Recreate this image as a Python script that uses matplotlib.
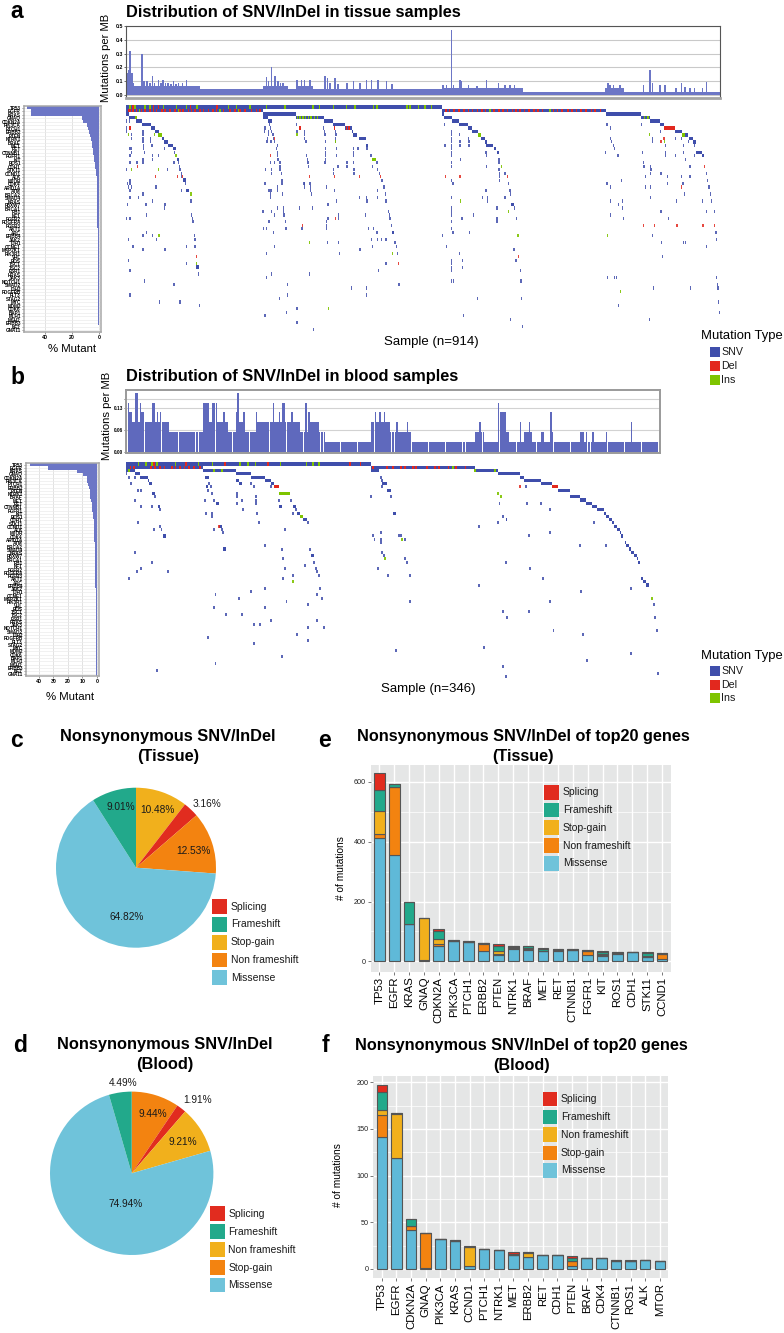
import numpy as np
import matplotlib
matplotlib.use('Agg')
import matplotlib.pyplot as plt
from matplotlib.patches import Rectangle

plt.rcParams['font.family'] = ['Liberation Sans', 'DejaVu Sans']

W, H = 784, 1333

# colours
SNV = '#3f4eab'
DEL = '#e2281e'
INS = '#7ec400'
HIST = '#6c76c6'
C_SPL = '#e12c1f'
C_FRA = '#22a98b'
C_YEL = '#f1b01c'
C_ORA = '#f38310'
C_MIS = '#6fc3da'

# ---- panel a, mutations per MB (start sample, end sample, value)
t_hist_plateau = [(0, 114, .067), (114, 211, .045), (211, 249, .067), (249, 262, .045),
                  (262, 288, .067), (288, 487, .04), (487, 611, .048), (611, 737, .024),
                  (737, 766, .048), (766, 914, .024)]
t_spike_x = [2, 5, 6, 9, 11, 25, 28, 32, 41, 50, 57, 65, 73, 81, 93,
             37, 44, 54, 61, 69, 77, 87, 216, 219, 224, 229, 234, 238, 242, 263, 270, 275, 283,
             306, 310, 314, 322, 326, 340, 350, 360, 370, 378, 388, 401, 409,
             488, 493, 501, 504, 514, 516, 527, 540, 555, 573, 583, 591, 598,
             742, 745, 750, 760, 796, 806, 810, 822, 829, 846, 855, 860, 868, 875, 887, 893]
t_spike_y = [.16, .18, .32, .16, .09, .30, .10, .10, .135, .11, .11, .09, .10, .09, .11,
             .085, .09, .085, .085, .08, .08, .085, .13, .10, .20, .14, .10, .09, .09, .11, .11, .11, .11,
             .14, .12, .09, .12, .08, .09, .10, .09, .11, .11, .11, .10, .08,
             .07, .07, .47, .07, .11, .10, .07, .065, .11, .09, .07, .07, .07,
             .09, .07, .075, .07, .07, .18, .09, .07, .07, .05, .09, .06, .05, .05, .05, .095]

# ---- panel a, % mutant per gene
genes = ['TP53', 'EGFR', 'KRAS', 'GNAQ', 'CDKN2A', 'PIK3CA', 'PTCH1', 'ERBB2', 'PTEN', 'NTRK1', 'BRAF',
         'MET', 'RET', 'CTNNB1', 'FGFR1', 'KIT', 'ROS1', 'CDH1', 'STK11', 'CCND1', 'ALK', 'MTOR', 'CDK4',
         'ARID1A', 'ATM', 'BRCA2', 'SMAD4', 'NRAS', 'FBXW7', 'BRCA1', 'RB1', 'NF1', 'FGFR2', 'PDGFRA',
         'FGFR3', 'AKT1', 'APC', 'ERBB4', 'JAK2', 'IDH1', 'CCNE1', 'MAP2K1', 'PIK3R1', 'VHL', 'ROS',
         'TSC1', 'TSC2', 'ESR1', 'HRAS', 'JAK3', 'NOTCH1', 'SMAD2', 'IDH2', 'PDGFRB', 'FLT3',
         'STAG2', 'MYC', 'MDM2', 'CDK6', 'BAP1', 'MLH1', 'MSH2', 'ERBB3', 'NF2', 'GNA11']
t_pct = [53.5, 50.5, 50.5, 12.5, 12, 9, 8.5, 7.5, 6.5, 6, 5.5, 5, 4.5, 4.2, 3.8, 3.4, 3, 2.7, 2.3, 1.9, 1.8, 1.7,
         1.6, 1.5, 1.5, 1.4, 1.4, 1.3, 1.3, 1.2, 1.2, 1.1, 1.1, 1.1, 1.1, 1, 1, 1, .9, .9, .9, .9, .8, .8,
         .8, .8, .7, .7, .7, .7, .6, .6, .6, .6, .5, .5, .5, .5, .5, .4, .4, .4, .4, .3, .3]

# ---- panel a, oncoprint: (row, start, end, kind)
t_runs = [(0, 0, 487, 's'), (1, 0, 211, 's'), (1, 487, 738, 's'),
          (2, 0, 4, 's'), (2, 211, 262, 's'), (2, 487, 490, 's'), (2, 738, 793, 's'),
          (3, 4, 15, 's'), (3, 211, 219, 's'), (3, 262, 304, 's'), (3, 490, 501, 's'), (3, 793, 806, 's'),
          (4, 16, 24, 's'), (4, 219, 224, 's'), (4, 304, 319, 's'), (4, 501, 513, 's'), (4, 806, 821, 's'),
          (5, 24, 38, 's'), (5, 319, 337, 's'), (5, 513, 526, 's'), (5, 821, 828, 's'),
          (6, 38, 44, 's'), (6, 337, 347, 's'), (6, 527, 533, 's'), (6, 828, 845, 'd'),
          (7, 44, 51, 's'), (7, 347, 350, 's'), (7, 533, 541, 's'), (7, 845, 855, 's'),
          (8, 50, 55, 'i'), (8, 350, 356, 's'), (8, 542, 547, 'i'), (8, 855, 860, 'i'), (8, 860, 865, 's'),
          (9, 55, 59, 's'), (9, 358, 369, 's'), (9, 547, 552, 's'), (9, 867, 873, 's'),
          (10, 59, 64, 's'), (10, 552, 556, 's'), (10, 873, 877, 's'),
          (11, 64, 73, 's'), (11, 369, 372, 's'), (11, 554, 565, 's'),
          (12, 73, 77, 's'), (12, 566, 570, 's'), (13, 571, 574, 's'), (13, 877, 886, 's'),
          (14, 886, 889, 's'), (15, 79, 82, 's'), (15, 378, 385, 'i'),
          (21, 87, 92, 's'), (24, 93, 97, 's'), (28, 593, 597, 's'), (36, 409, 413, 's'), (46, 108, 112, 's')]
# extra cells laid over the runs
t_row0_ins = [6, 14, 29, 37, 58, 78, 93, 109, 158, 170, 191, 216, 245, 288, 298, 319, 339, 352, 381, 386, 432, 437, 450, 460, 470]
t_row0_del = [11, 42, 50, 99, 140]
t_row1_del = [4, 6, 11, 16, 24, 29, 37, 42, 47, 55, 60, 68, 75, 83, 88, 96, 101, 106, 114, 119, 127, 134, 139,
              150, 160, 168, 175, 183, 193, 201, 206, 492, 498, 505, 512, 520, 527, 533, 541, 548, 553, 566,
              574, 580, 587, 595, 600, 606, 613, 620, 628, 634, 641, 658, 664, 671, 680, 686, 693, 700, 708,
              716, 722, 730]
t_row1_ins = [21, 81, 145, 173, 560, 652]
t_row3_ins = [15, 264, 268, 272, 276, 281, 285, 290, 295, 798, 803]
t_row6_del = [6, 268, 321, 339, 343]

t_snv = [(4, [0, 5]), (5, [221, 262, 490, 740, 793]), (6, [0, 214, 222, 304, 745]),
         (7, [0, 26, 213, 219, 224, 263, 275, 305, 322, 501, 822]),
         (8, [8, 26, 219, 226, 275, 306, 323, 501, 513]),
         (9, [8, 26, 38, 218, 227, 275, 322, 501, 527, 746, 810, 845, 855]),
         (10, [26, 38, 217, 223, 229, 277, 307, 322, 501, 514, 528, 747, 810, 866]),
         (11, [27, 40, 233, 491, 501, 514, 528, 750, 830, 858, 875]),
         (12, [6, 9, 27, 59, 73, 232, 307, 324, 350, 357, 371, 501, 752]),
         (13, [9, 28, 75, 233, 307, 350, 501, 554, 738, 795, 830, 858]),
         (14, [6, 41, 50, 233, 278, 307, 324, 350, 377, 501, 555, 757, 830, 846, 875]),
         (15, [26, 41, 234, 279, 515, 574, 307, 861]),
         (16, [6, 17, 26, 74, 81, 222, 229, 237, 280, 306, 340, 350, 386, 501, 574, 796]),
         (17, [82, 237, 281, 326, 340, 379, 501, 555, 797, 807, 868]),
         (18, [1, 64, 83, 215, 224, 237, 319, 351, 387, 573, 575, 807, 809]),
         (19, [85, 224, 239, 319, 351, 390, 575, 583, 807, 823, 893]),
         (20, [85, 575, 799, 833, 855, 868]), (21, [6, 240, 394, 501, 575, 762, 895]),
         (22, [2, 6, 92, 214, 240, 274, 275, 283, 503, 589, 740, 833, 857]),
         (23, [4, 9, 46, 233, 275, 284, 309, 397, 745, 799, 807, 897]),
         (24, [6, 85, 220, 223, 233, 284, 321, 387, 554, 591]),
         (25, [26, 222, 241, 285, 399, 592, 859, 899]),
         (26, [6, 19, 222, 359, 370, 387, 501, 549, 556, 583, 807]),
         (27, [41, 100, 324, 371, 400, 556, 746, 764, 847, 887, 901]),
         (28, [2, 31, 60, 311, 758]), (29, [59, 233, 242, 267, 287, 501, 571, 598, 764]),
         (30, [211, 224, 242, 404, 501, 823, 893, 905]),
         (31, [32, 101, 228, 243, 327, 369, 405, 501, 535, 746]),
         (32, [1, 6, 102, 311, 327, 406, 517, 571, 601, 765, 835]),
         (33, [220, 245, 309, 103, 501, 571]), (34, [308, 408]),
         (35, [212, 216, 246, 271, 308, 373, 381, 501]),
         (36, [32, 227, 386, 503, 529, 908]), (37, [26, 41, 105, 487, 810]),
         (38, [4, 47, 106, 378, 387, 393, 400, 909]), (39, [310, 327, 414, 824, 858, 861]),
         (40, [11, 93, 106, 228, 379, 416, 493, 893]), (41, [26, 60, 360, 596, 598]),
         (42, [216, 328, 418, 513]), (43, [826]), (44, [4, 518, 600, 501]), (45, [93, 400, 501]),
         (46, [518, 501]), (47, [6, 389, 501, 607]), (48, [112, 224, 282]),
         (49, [216, 741, 752, 755, 909]), (50, [29, 501, 504, 608]), (51, [74, 248, 420, 910]),
         (52, [347, 370, 812, 869, 911]), (54, [6, 248, 370]), (55, [236, 541, 609]),
         (56, [52, 83, 912]), (57, [113, 758]), (58, [263]), (59, [247, 913]), (60, [214, 519]),
         (61, [592, 806]), (62, [263]), (63, [610]), (64, [288])]
t_del = [(6, [6, 268]), (9, [229, 828]), (10, [823]), (14, [222]), (17, [18, 890]), (20, [45, 79, 87, 282, 321, 359, 392, 492, 514, 587]),
         (23, [855]), (32, [322]), (34, [272, 796, 813, 848, 888, 906]), (43, [108, 604]), (45, [419])]
t_ins = [(8, [4, 44, 263, 806]), (10, [322, 829]), (14, [77]), (17, [578]), (18, [9, 50]), (25, [100]), (27, [515]), (30, [589]),
         (37, [51, 603, 741]), (39, [282]), (42, [410]), (45, [109]), (53, [761]), (58, [312])]

# ---- panel b, mutations per MB as steps: sample where a level starts and its level
b_step_start = [0, 2, 4, 6, 8, 9, 10, 12, 17, 19, 20, 21, 22, 23, 28, 50, 54, 56, 59, 63, 64, 66, 71, 72, 73, 76, 77,
                84, 85, 95, 96, 99, 100, 101, 103, 107, 108, 113, 116, 117, 118, 119, 125, 129, 159, 161, 162,
                164, 165, 167, 168, 171, 175, 176, 182, 183, 185, 226, 229, 230, 232, 241, 242, 246, 248, 255,
                256, 258, 261, 262, 263, 269, 271, 275, 276, 277, 294, 297, 298, 299, 302, 303, 311, 312, 327, 328]
b_step_level = [5, 4, 3, 6, 3, 5, 4, 3, 5, 3, 4, 3, 4, 3, 2, 5, 3, 5, 3, 4, 3, 2, 4, 6, 3, 4, 2,
                4, 3, 5, 3, 4, 3, 5, 3, 4, 3, 2, 5, 2, 4, 3, 2, 1, 3, 4, 3,
                4, 3, 4, 3, 2, 3, 2, 3, 2, 1, 2, 3, 2, 1, 5, 4, 2, 1, 3,
                1, 2, 3, 2, 1, 2, 1, 4, 2, 1, 2, 1, 2, 1, 2, 1, 2, 1, 3, 1]
b_level_value = 0.0295

b_pct = [46, 34, 14, 9.5, 7, 6.5, 6, 5.5, 5, 4.6, 4.4, 4, 3.6, 3.2, 3, 2.8, 2.5, 2.3, 2.1, 2, 1.9, 1.8, 1.7, 1.7, 1.6,
         1.5, 1.5, 1.4, 1.4, 1.3, 1.3, 1.2, 1.2, 1.1, 1.1, 1, 1, 1, .9, .9, .9, .9, .8, .8, .8, .8,
         .8, .7, .7, .7, .7, .6, .6, .6, .6, .6, .5, .5, .5, .5, .4, .4, .4, .3, .3]

b_runs = [(0, 0, 159, 's'), (1, 0, 50, 's'), (1, 159, 226, 's'),
          (2, 0, 6, 's'), (2, 50, 71, 's'), (2, 159, 164, 's'), (2, 227, 241, 's'),
          (3, 6, 9, 's'), (3, 71, 81, 's'), (3, 241, 255, 's'),
          (4, 9, 14, 's'), (4, 51, 54, 's'), (4, 81, 90, 's'), (4, 255, 258, 's'),
          (5, 14, 15, 's'), (5, 71, 73, 's'), (5, 90, 94, 's'), (5, 258, 269, 's'),
          (6, 15, 17, 's'), (6, 73, 75, 's'), (6, 94, 96, 's'), (6, 166, 169, 's'), (6, 269, 276, 's'),
          (7, 52, 53, 's'), (7, 96, 99, 'd'), (7, 276, 280, 'd'),
          (8, 169, 172, 's'), (8, 280, 288, 's'), (9, 17, 19, 's'), (9, 99, 106, 'i'),
          (10, 288, 294, 's'), (11, 294, 298, 's'), (12, 58, 60, 's'), (12, 298, 302, 's'),
          (13, 21, 22, 's'), (13, 99, 101, 's'), (13, 108, 110, 's'), (13, 302, 305, 's'),
          (14, 305, 310, 's'), (15, 111, 113, 's'), (15, 173, 175, 's'), (15, 310, 311, 's'),
          (16, 113, 115, 'i'), (16, 311, 313, 's'), (17, 115, 117, 's'), (17, 246, 247, 's'), (17, 313, 315, 's'),
          (18, 315, 316, 's'), (19, 60, 62, 's'), (19, 316, 318, 's'), (20, 318, 320, 's'), (21, 320, 321, 's'),
          (22, 24, 26, 's'), (22, 321, 322, 's'), (24, 323, 324, 's'), (25, 324, 326, 's'),
          (26, 63, 65, 's'), (26, 326, 327, 's'), (27, 327, 329, 's'), (28, 120, 122, 's'), (28, 329, 331, 's'),
          (29, 331, 332, 's'), (30, 332, 333, 's'), (35, 334, 335, 's'), (36, 335, 337, 's'), (37, 337, 339, 's')]
b_row0_ins = [8, 13, 17, 20, 32, 39, 47, 56, 74, 79, 84, 100, 117, 121, 125]
b_row0_del = [18, 39, 64, 92, 145, 152]
b_row1_del = [3, 5, 16, 19, 22, 25, 30, 32, 35, 38, 41, 44, 48, 160, 169, 173, 178, 181, 186, 188, 195, 200, 203, 209, 214, 220]
b_row1_ins = [212]
b_row2_ins = [2, 57, 62, 226, 239]
b_snv = [(3, [0]), (4, [2, 6, 165]), (5, [166]), (6, [3, 54, 81]), (7, [55, 83, 94, 166, 259]), (8, [8, 10, 53]),
         (9, [56, 72]), (10, [19, 72, 84, 159, 172]), (11, [6, 51, 57, 75, 84, 99, 107]),
         (12, [72, 84, 242, 260, 269]), (13, [10, 17, 100]), (14, [22, 76, 110, 275]), (15, [52, 56, 85, 108]),
         (16, [56, 244]), (18, [8, 86, 118, 241, 303]), (19, [22, 229]), (20, [18, 23, 57, 62, 103]),
         (21, [63, 165, 275]), (22, [160, 177, 178, 261]), (23, [161, 165, 181]), (24, [165]),
         (25, [90, 294, 311]), (26, [101, 119]), (27, [6, 166]), (28, [167]), (29, [102, 181]),
         (30, [17, 122, 182, 246]), (31, [116]), (32, [10, 103, 123, 163, 262]), (33, [7, 27, 124]),
         (34, [108, 125, 170, 184]), (35, [2, 102, 270]), (37, [229]), (38, [90, 126, 327]), (39, [81, 295]),
         (40, [58, 124]), (41, [73, 127]), (42, [104, 184, 275]), (43, [118, 342]), (44, [57, 90]),
         (45, [244, 261]), (46, [65, 75]), (47, [247, 343]), (48, [94, 124]), (49, [83, 87]), (50, [118, 128]),
         (51, [277, 344]), (52, [111, 296]), (53, [53]), (54, [118]), (55, [83]), (56, [232]), (57, [175]),
         (58, [327]), (59, [101]), (60, [299]), (61, [58]), (62, [244]), (63, [20]), (64, [345]), (65, [246])]
b_del = [(7, [255]), (19, [60])]
b_ins = [(9, [241]), (10, [243]), (16, [114]), (23, [179]), (29, [168]), (36, [108]), (41, [341])]

# ---- pies, clockwise from the top
pie_c_values = [10.48, 3.16, 12.53, 64.82, 9.01]
pie_c_colors = [C_YEL, C_SPL, C_ORA, C_MIS, C_FRA]
pie_d_values = [9.44, 1.91, 9.21, 74.94, 4.49]
pie_d_colors = [C_ORA, C_SPL, C_YEL, C_MIS, C_FRA]

# ---- stacked bars
e_genes = ['TP53', 'EGFR', 'KRAS', 'GNAQ', 'CDKN2A', 'PIK3CA', 'PTCH1', 'ERBB2', 'PTEN', 'NTRK1', 'BRAF', 'MET',
           'RET', 'CTNNB1', 'FGFR1', 'KIT', 'ROS1', 'CDH1', 'STK11', 'CCND1']
e_missense = [412, 357, 125, 3, 50, 67, 65, 35, 22, 41, 39, 33, 35, 39, 22, 17, 26, 30, 13, 8]
e_nonframe = [12, 225, 0, 2, 9, 2, 1, 24, 3, 3, 3, 0, 2, 0, 13, 3, 2, 0, 3, 17]
e_stopgain = [78, 1, 0, 140, 16, 0, 0, 2, 8, 3, 4, 1, 1, 0, 0, 3, 1, 0, 3, 0]
e_frameshift = [72, 11, 72, 0, 25, 2, 2, 1, 19, 3, 4, 6, 3, 2, 2, 8, 2, 1, 8, 2]
e_splicing = [54, 0, 0, 0, 8, 0, 0, 1, 5, 2, 0, 4, 1, 0, 0, 3, 1, 0, 3, 0]

f_genes = ['TP53', 'EGFR', 'CDKN2A', 'GNAQ', 'PIK3CA', 'KRAS', 'CCND1', 'PTCH1', 'NTRK1', 'MET', 'ERBB2', 'RET',
           'CDH1', 'PTEN', 'BRAF', 'CDK4', 'CTNNB1', 'ROS1', 'ALK', 'MTOR']
f_missense = [141, 119, 42, 1, 32, 30, 3, 21, 20, 15, 13, 15, 15, 3, 12, 12, 8, 9, 10, 9]
f_stopgain = [24, 0, 4, 37, 0, 0, 0, 0, 0, 0, 0, 0, 0, 6, 0, 0, 0, 0, 0, 0]
f_nonframe = [5, 47, 0, 0, 0, 0, 20, 0, 0, 0, 4, 0, 0, 0, 0, 0, 0, 0, 0, 0]
f_frameshift = [19, 1, 8, 0, 0, 1, 1, 0, 0, 1, 1, 0, 0, 3, 0, 0, 2, 0, 0, 0]
f_splicing = [8, 0, 0, 0, 0, 0, 1, 0, 0, 2, 0, 0, 0, 2, 0, 0, 0, 1, 0, 0]


def px_axes(x0, y0, x1, y1, **kw):
    # axes placed by pixel box, y counted from the top of the image
    return fig.add_axes([x0 / W, 1 - y1 / H, (x1 - x0) / W, (y1 - y0) / H], **kw)


def draw_cells(ax, cells, color, width, alpha=1.0):
    for row, samples in cells:
        ax.bar(np.array(samples), 0.92, width=width, bottom=row - 0.46, color=color, alpha=alpha, linewidth=0)


def draw_oncoprint(ax, runs, snv, dele, ins, width, n):
    kinds = {'s': SNV, 'd': DEL, 'i': INS}
    for row, a, b, k in runs:
        ax.bar(a, 0.96, width=b - a, bottom=row - 0.48, align='edge', color=kinds[k], linewidth=0)
    draw_cells(ax, snv, SNV, width, 0.85)
    draw_cells(ax, dele, DEL, width, 0.85)
    draw_cells(ax, ins, INS, width, 0.9)
    ax.set_xlim(0, n)
    ax.axis('off')


def draw_gene_bars(ax, pct, labels, xmax, ticks):
    rows = np.arange(len(pct))
    ax.barh(rows, pct, height=1.0, color=HIST, linewidth=0, zorder=2)
    ax.set_xlim(xmax, -1.5)
    ax.set_ylim(len(pct) - 0.5, -0.5)
    ax.set_yticks(rows)
    ax.set_yticklabels(labels, fontsize=3.3, fontweight='bold')
    ax.set_xticks(ticks)
    ax.set_xticklabels(ticks, fontsize=3.8, fontweight='bold')
    ax.tick_params(axis='both', length=1.5, width=0.4, pad=0.8, color='#444444')
    ax.grid(axis='y', color='#ececec', linewidth=0.5, zorder=0)
    ax.grid(axis='x', color='#e2e2e2', linewidth=0.7, zorder=1)
    for s in ax.spines.values():
        s.set_color('#a8a8a8')
        s.set_linewidth(1.1)


def draw_stacked(ax, labels, layers, ymax_ticks, ylims):
    x = np.arange(1, len(labels) + 1)
    bottom = np.zeros(len(labels))
    for vals, col in layers:
        ax.bar(x, vals, 0.72, bottom=bottom, color=col, edgecolor='#555555', linewidth=0.8, zorder=3)
        bottom = bottom + np.array(vals)
    ax.set_facecolor('#e5e6e6')
    ax.set_xlim(0.42, 20.58)
    ax.set_ylim(*ylims)
    ax.set_xticks(x)
    ax.set_xticklabels(labels, rotation=90, fontsize=8.2)
    ax.set_yticks(ymax_ticks)
    ax.set_yticklabels(ymax_ticks, fontsize=5.2, color='#222222')
    mids = (np.array(ymax_ticks[:-1]) + np.array(ymax_ticks[1:])) / 2
    ax.set_yticks(mids, minor=True)
    ax.tick_params(axis='both', length=2, width=0.5, pad=1.5, color='#444444')
    ax.tick_params(axis='y', which='minor', length=0)
    ax.grid(which='major', color='white', linewidth=1.0, zorder=1)
    ax.grid(which='minor', axis='y', color='white', linewidth=0.5, zorder=1)
    for s in ax.spines.values():
        s.set_visible(False)


def px_legend(x0, size, ys, tx, names, colors, fs=7.5):
    for y, name, col in zip(ys, names, colors):
        ov.add_patch(Rectangle((x0, y - size / 2), size, size, facecolor=col, edgecolor='none'))
        ov.text(tx, y, name, fontsize=fs, va='center', ha='left', color='#1a1a1a')


fig = plt.figure(figsize=(W / 100, H / 100), dpi=100, facecolor='white')

# ---- panel a, top bars
ax = px_axes(126, 26, 720, 98)
for a, b, v in t_hist_plateau:
    ax.bar(a, v, width=b - a, align='edge', color=HIST, linewidth=0, zorder=2)
ax.bar(t_spike_x, t_spike_y, width=2.4, color=HIST, linewidth=0, zorder=2)
ax.set_xlim(0, 914)
ax.set_ylim(-0.0216, 0.5)
ax.set_xticks([])
ax.set_yticks([0, .1, .2, .3, .4, .5])
ax.set_yticklabels(['0.0', '0.1', '0.2', '0.3', '0.4', '0.5'], fontsize=3.8, fontweight='bold')
ax.tick_params(axis='y', length=1.5, width=0.4, pad=0.8)
ax.grid(axis='y', color='#c9c9c9', linewidth=0.8, zorder=0)
ax.spines['top'].set_color('#555555')
ax.spines['right'].set_color('#555555')
ax.spines['left'].set_color('#555555')
ax.spines['bottom'].set_color('#a5a5a5')
ax.spines['bottom'].set_linewidth(2)

# ---- panel a, gene bars
ax = px_axes(24, 106, 101, 332)
draw_gene_bars(ax, t_pct, genes, 55.7, [40, 20, 0])

# ---- panel a, oncoprint
ax = px_axes(126, 105.3, 720, 105.3 + 66 * 3.48)
ax.set_ylim(65.5, -0.5)
draw_oncoprint(ax, t_runs, t_snv, t_del, t_ins, 2.0, 914)
ax.bar(t_row0_ins, 0.96, width=2.4, bottom=-0.48, color=INS, linewidth=0)
ax.bar(t_row0_del, 0.96, width=2.4, bottom=-0.48, color=DEL, linewidth=0)
ax.bar(t_row1_del, 0.96, width=2.4, bottom=0.52, color=DEL, linewidth=0)
ax.bar(t_row1_ins, 0.96, width=2.4, bottom=0.52, color=INS, linewidth=0)
ax.bar(t_row3_ins, 0.96, width=2.4, bottom=2.52, color=INS, linewidth=0)
ax.bar(t_row6_del, 0.96, width=2.4, bottom=5.52, color=DEL, linewidth=0)

# ---- panel b, top bars
samples_b = np.arange(346)
idx = np.searchsorted(b_step_start, samples_b, side='right') - 1
mut_b = np.array(b_step_level)[idx] * b_level_value
ax = px_axes(126, 390, 660, 453)
ax.bar(samples_b + 0.5, mut_b, width=0.93, color='#5f69bd', linewidth=0, zorder=2)
ax.set_xlim(0, 346)
ax.set_ylim(-0.004, 0.185)
ax.set_xticks([])
ax.set_yticks([0, .065, .13, .159])
ax.set_yticklabels(['0.00', '0.06', '0.13', ''], fontsize=3.4, fontweight='bold')
ax.tick_params(axis='y', length=1.5, width=0.4, pad=0.8)
ax.grid(axis='y', color='#d2d2d2', linewidth=0.8, zorder=0)
for s in ax.spines.values():
    s.set_color('#9a9a9a')
    s.set_linewidth(1.4)

# ---- panel b, gene bars
ax = px_axes(26, 463, 99, 676)
draw_gene_bars(ax, b_pct, genes, 49, [40, 30, 20, 10, 0])

# ---- panel b, oncoprint
ax = px_axes(126, 462.4, 660, 462.4 + 67 * 3.27)
ax.set_ylim(66.5, -0.5)
draw_oncoprint(ax, b_runs, b_snv, b_del, b_ins, 1.25, 346)
ax.bar(b_row0_ins, 0.96, width=1.0, bottom=-0.48, color=INS, linewidth=0)
ax.bar(b_row0_del, 0.96, width=1.0, bottom=-0.48, color=DEL, linewidth=0)
ax.bar(b_row1_del, 0.96, width=1.1, bottom=0.52, color=DEL, linewidth=0)
ax.bar(b_row1_ins, 0.96, width=1.0, bottom=0.52, color=INS, linewidth=0)
ax.bar(b_row2_ins, 0.96, width=1.1, bottom=1.52, color=INS, linewidth=0)

# ---- pies
ax = px_axes(136 - 81, 867.7 - 81, 136 + 81, 867.7 + 81)
ax.pie(pie_c_values, colors=pie_c_colors, startangle=90, counterclock=False, radius=1)
ax.set_xlim(-81 / 80, 81 / 80)
ax.set_ylim(-81 / 80, 81 / 80)

ax = px_axes(131.7 - 83, 1173.3 - 83, 131.7 + 83, 1173.3 + 83)
ax.pie(pie_d_values, colors=pie_d_colors, startangle=90, counterclock=False, radius=1)
ax.set_xlim(-83 / 81.7, 83 / 81.7)
ax.set_ylim(-83 / 81.7, 83 / 81.7)

# ---- stacked bars
ax = px_axes(370.7, 765, 670.7, 971.7)
draw_stacked(ax, e_genes, [(e_missense, '#5fb9d8'), (e_nonframe, C_ORA), (e_stopgain, C_YEL),
                           (e_frameshift, C_FRA), (e_splicing, C_SPL)], [0, 200, 400, 600], (-34.5, 656))
ax = px_axes(373.3, 1076, 668.3, 1278.3)
draw_stacked(ax, f_genes, [(f_missense, '#5fb9d8'), (f_stopgain, C_ORA), (f_nonframe, C_YEL),
                           (f_frameshift, C_FRA), (f_splicing, C_SPL)], [0, 50, 100, 150, 200], (-10, 206.6))

# ---- text and legends drawn in image pixels
ov = fig.add_axes([0, 0, 1, 1], zorder=10)
ov.set_xlim(0, W)
ov.set_ylim(H, 0)
ov.axis('off')
ov.patch.set_alpha(0)

for letter, x, y in [('a', 17, 17.5), ('b', 17, 384), ('c', 16.5, 747), ('d', 20, 1052), ('e', 325, 747), ('f', 325, 1052)]:
    ov.text(x, y, letter, fontsize=16.5, fontweight='bold', ha='center', va='baseline')

ov.text(126.5, 13, 'Distribution of SNV/InDel in tissue samples', fontsize=11.8, fontweight='bold', va='center')
ov.text(126, 377, 'Distribution of SNV/InDel in blood samples', fontsize=11.8, fontweight='bold', va='center')
ov.text(106, 58, 'Mutations per MB', fontsize=8.1, rotation=90, ha='center', va='center')
ov.text(107, 416, 'Mutations per MB', fontsize=8.1, rotation=90, ha='center', va='center')
ov.text(72.5, 349, '% Mutant', fontsize=8.2, ha='center', va='center')
ov.text(70, 697, '% Mutant', fontsize=8.2, ha='center', va='center')
ov.text(431, 341.5, 'Sample (n=914)', fontsize=9.5, ha='center', va='center')
ov.text(428, 689, 'Sample (n=346)', fontsize=9.5, ha='center', va='center')

mut_names = ['SNV', 'Del', 'Ins']
mut_colors = [SNV, DEL, INS]
ov.text(701.5, 336.5, 'Mutation Type', fontsize=9.4, va='center')
px_legend(710, 10, [352, 366, 380], 721, mut_names, mut_colors, 7.7)
ov.text(701.5, 656, 'Mutation Type', fontsize=9.4, va='center')
px_legend(710, 10, [671, 685, 698], 721, mut_names, mut_colors, 7.7)

ov.text(168, 737, 'Nonsynonymous SNV/InDel', fontsize=11.8, fontweight='bold', ha='center', va='center')
ov.text(168, 757, '(Tissue)', fontsize=11.8, fontweight='bold', ha='center', va='center')
ov.text(165, 1044, 'Nonsynonymous SNV/InDel', fontsize=11.8, fontweight='bold', ha='center', va='center')
ov.text(165, 1064, '(Blood)', fontsize=11.8, fontweight='bold', ha='center', va='center')
ov.text(523, 736, 'Nonsynonymous SNV/InDel of top20 genes', fontsize=11.7, fontweight='bold', ha='center', va='center')
ov.text(523, 756.5, '(Tissue)', fontsize=11.7, fontweight='bold', ha='center', va='center')
ov.text(521.7, 1045.5, 'Nonsynonymous SNV/InDel of top20 genes', fontsize=11.7, fontweight='bold', ha='center', va='center')
ov.text(521.7, 1065.5, '(Blood)', fontsize=11.7, fontweight='bold', ha='center', va='center')
ov.text(340.7, 867.7, '# of mutations', fontsize=7.3, rotation=90, ha='center', va='center')
ov.text(338, 1175, '# of mutations', fontsize=7.3, rotation=90, ha='center', va='center')

for txt, x, y in [('9.01%', 120.7, 806.7), ('10.48%', 157, 810), ('3.16%', 206.7, 804), ('12.53%', 193.3, 851), ('64.82%', 126.7, 917.3),
                  ('4.49%', 122.7, 1083.3), ('1.91%', 198, 1100), ('9.44%', 153.3, 1114), ('9.21%', 182.7, 1142), ('74.94%', 126, 1203.7)]:
    ov.text(x, y, txt, fontsize=7.3, ha='center', va='center', color='#1a1a1a')

names_c = ['Splicing', 'Frameshift', 'Stop-gain', 'Non frameshift', 'Missense']
names_d = ['Splicing', 'Frameshift', 'Non frameshift', 'Stop-gain', 'Missense']
leg_colors = [C_SPL, C_FRA, C_YEL, C_ORA, C_MIS]
px_legend(212.3, 14.7, [906.7, 924.3, 942.3, 960, 977.7], 230.7, names_c, leg_colors)
px_legend(210, 14.7, [1213.7, 1231.7, 1249.7, 1267.7, 1285], 228.3, names_d, leg_colors)
px_legend(544, 14.7, [792.3, 810, 827.7, 845.7, 863.3], 562.7, names_c, leg_colors)
px_legend(542.7, 14.7, [1099, 1117, 1134.7, 1153, 1170.3], 561, names_d, leg_colors)

fig.savefig('out.png', dpi=100, facecolor='white')
